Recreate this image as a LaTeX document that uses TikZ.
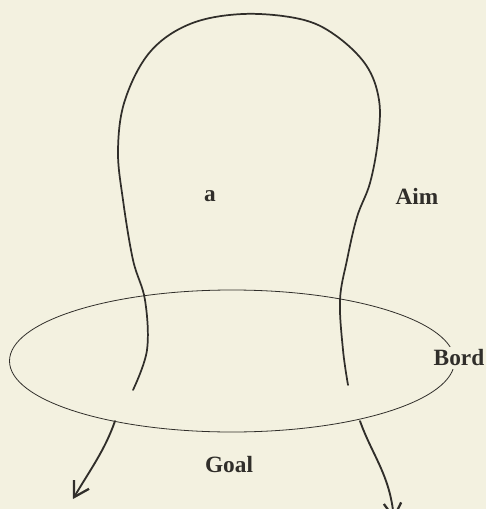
\documentclass[tikz,border=0pt]{standalone}
\usepackage{fontspec}
\setmainfont{Liberation Serif}
\usetikzlibrary{shapes.geometric,arrows.meta}
\definecolor{paper}{HTML}{F3F1E0}
\definecolor{ink}{HTML}{302E2A}
\tikzset{
  x=0.75pt,y=-0.75pt,
  loopline/.style={draw=ink,line width=1.3pt,line cap=round},
  legline/.style={draw=ink,line width=1.4pt,line cap=round,-{Straight Barb[length=11pt,width=13pt,line width=1.7pt]}},
  rim/.style={draw=ink,line width=0.6pt,ellipse,minimum width=445*0.75pt,minimum height=142*0.75pt,inner sep=0pt},
  lbl/.style={font=\bfseries\fontsize{17.5}{19}\selectfont,text=ink,inner sep=1pt},
}
\begin{document}
\begin{tikzpicture}
\fill[paper] (0,0) rectangle (486,509);
\useasboundingbox (0,0) rectangle (486,509);
\clip (0,0) rectangle (486,509);
% plane
\node[rim] (plane) at (232,361) {};
\node[lbl,fill=paper,inner sep=2pt] (bord) at (459,358) {Bord};
% loop above the plane
\draw[loopline] plot[smooth,tension=0.6] coordinates {
 (133,390) (147,350) (145,300) (133,260) (123,200) (118,150) (125,100)
 (150,52) (190,24) (243,14) (300,19) (335,35) (366,65) (379,100)
 (378,140) (370,183) (357,217) (347,260) (340,300) (343,350) (348,385)};
% legs below the plane
\coordinate (lstart) at (115,421);
\coordinate (ltip) at (73,499);
\coordinate (rstart) at (360,421);
\coordinate (rtip) at (394,520);
\draw[legline] (lstart) .. controls (105,450) and (90,470) .. (ltip);
\draw[legline] (rstart) .. controls (372,455) and (390,475) .. (rtip);
% labels
\node[lbl] (a) at (210,196) {a};
\node[lbl] (aim) at (417,196) {Aim};
\node[lbl] (goal) at (229,465) {Goal};
\end{tikzpicture}
\end{document}
